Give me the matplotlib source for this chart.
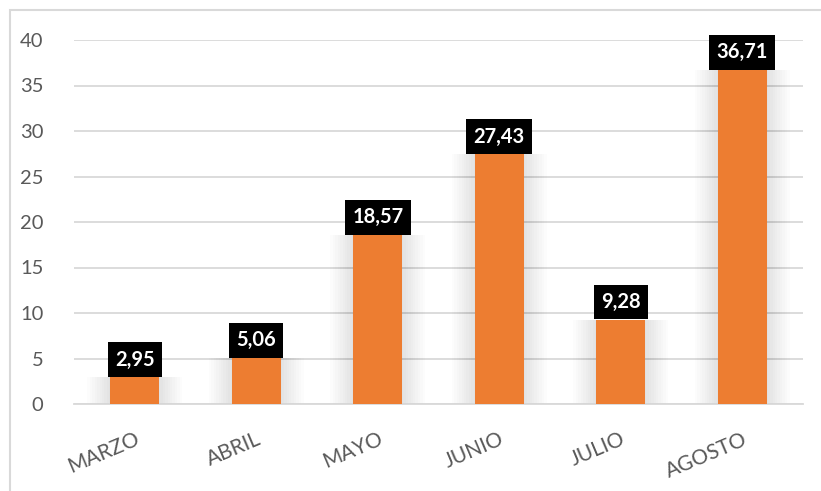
import matplotlib
matplotlib.use("Agg")
import matplotlib.pyplot as plt
from matplotlib.patches import Rectangle

plt.rcParams['font.family'] = ['Lato', 'DejaVu Sans']

# data
meses = ["MARZO", "ABRIL", "MAYO", "JUNIO", "JULIO", "AGOSTO"]
valores = [2.95, 5.06, 18.57, 27.43, 9.28, 36.71]
etiquetas = ["2,95", "5,06", "18,57", "27,43", "9,28", "36,71"]
yticks = [0, 5, 10, 15, 20, 25, 30, 35, 40]

naranja = "#ED7D31"
gris_txt = "#595959"
gris_lin = "#D9D9D9"

fig = plt.figure(figsize=(8.21, 4.91), dpi=100)
# outer chart frame
fig.patches.append(Rectangle((10 / 821, -0.1), 1.1, (491 - 10) / 491 + 0.1,
                             transform=fig.transFigure, fill=False,
                             edgecolor=gris_lin, linewidth=1.5))

ax = fig.add_axes([74 / 821, 87 / 491, (803 - 74) / 821, (404 - 40) / 491])
x = range(len(meses))

# soft shadow behind the bars
for k in range(10):
    w = 0.42 + 0.04 * k
    ax.bar(x, valores, width=w, color="black", alpha=0.012, zorder=2, linewidth=0)
ax.bar(x, valores, width=0.4, color=naranja, zorder=3, linewidth=0)

for i, (v, t) in enumerate(zip(valores, etiquetas)):
    ax.annotate(t, xy=(i, v), xytext=(0, 5.5), textcoords="offset points",
                ha="center", va="bottom", color="white", fontsize=14.5,
                fontweight="bold", zorder=5,
                bbox=dict(boxstyle="square,pad=0.36", facecolor="black",
                          edgecolor="none"))

ax.set_ylim(0, 40)
ax.set_xlim(-0.5, len(meses) - 0.5)
ax.set_yticks(yticks)
ax.set_xticks(list(x))
ax.set_xticklabels(meses, rotation=23, ha="right", rotation_mode="anchor")
ax.tick_params(axis="y", length=0, labelsize=14.5, colors=gris_txt, pad=22)
ax.tick_params(axis="x", length=0, labelsize=15, colors=gris_txt, pad=18)
ax.grid(axis="y", color=gris_lin, linewidth=1.3, zorder=0)
ax.set_axisbelow(True)
for s in ["top", "right", "left"]:
    ax.spines[s].set_visible(False)
ax.spines["bottom"].set_color(gris_lin)
ax.spines["bottom"].set_linewidth(1.3)

fig.savefig("out.png", dpi=100)
